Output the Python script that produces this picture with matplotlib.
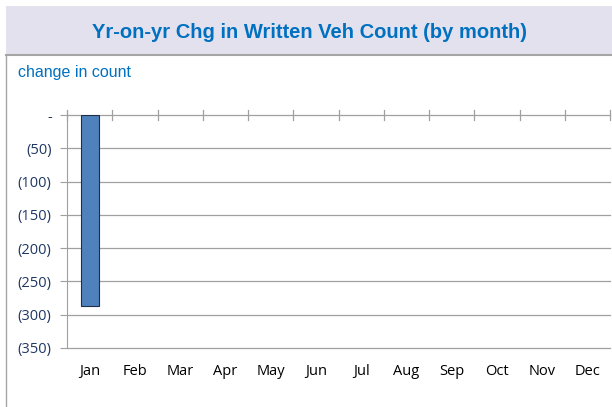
import matplotlib
matplotlib.use("Agg")
import matplotlib.pyplot as plt
from matplotlib.patches import Rectangle
from matplotlib.lines import Line2D
import numpy as np

months = ["Jan", "Feb", "Mar", "Apr", "May", "Jun", "Jul", "Aug", "Sep", "Oct", "Nov", "Dec"]
values = [-287, np.nan, np.nan, np.nan, np.nan, np.nan, np.nan, np.nan, np.nan, np.nan, np.nan, np.nan]
yticks = [0, -50, -100, -150, -200, -250, -300, -350]
ytick_labels = ["-", "(50)", "(100)", "(150)", "(200)", "(250)", "(300)", "(350)"]

W, H = 612, 407
fig = plt.figure(figsize=(W / 100, H / 100), dpi=100)
fig.patch.set_facecolor("white")

# title band
fig.patches.append(Rectangle((6 / W, 1 - 55 / H), 1, 49 / H, transform=fig.transFigure,
                             facecolor="#E4E1EE", edgecolor="none", zorder=0))
fig.lines.append(Line2D([6 / W, 1], [1 - 55 / H, 1 - 55 / H], transform=fig.transFigure,
                        color="#A6A6A6", lw=1.5))
fig.lines.append(Line2D([6 / W, 6 / W], [0, 1 - 55 / H], transform=fig.transFigure,
                        color="#A6A6A6", lw=1.0))
fig.text(309 / W, 1 - 33 / H, "Yr-on-yr Chg in Written Veh Count (by month)",
         ha="center", va="center", fontsize=14.5, fontweight="bold", color="#0070C0",
         family="Liberation Sans")
fig.text(18 / W, 1 - 73 / H, "change in count", ha="left", va="center",
         fontsize=11.5, color="#0070C0", family="Liberation Sans")

left, right, top, bottom = 67, 610, 115, 348
ax = fig.add_axes([left / W, 1 - bottom / H, (right - left) / W, (bottom - top) / H])
x = np.arange(len(months))
ax.bar(x, values, width=0.4, color="#4F81BD", edgecolor="#1F2F45", linewidth=0.8, zorder=3)
ax.set_xlim(-0.5, 11.5)
ax.set_ylim(-350, 0)
ax.set_yticks(yticks)
ax.set_yticklabels(ytick_labels, color="#1F3864", fontsize=10.5, family="Open Sans")
for yv in yticks:
    ax.axhline(yv, color="#A0A0A0", lw=0.9, zorder=0, clip_on=False)
for s in ["top", "right", "bottom"]:
    ax.spines[s].set_visible(False)
ax.spines["left"].set_color("#A0A0A0")
ax.tick_params(axis="y", length=5, color="#A0A0A0", direction="out", pad=6)

# category ticks along the zero line
ax.set_xticks([])
for b in np.arange(-0.5, 12, 1):
    ax.plot([b, b], [-7, 7], color="#A0A0A0", lw=0.9, clip_on=False, zorder=2)
for i, m in enumerate(months):
    ax.text(i, -386, m, ha="center", va="center", fontsize=10.5, color="black",
            family="Open Sans", clip_on=False)

fig.savefig("out.png", dpi=100, facecolor="white")
